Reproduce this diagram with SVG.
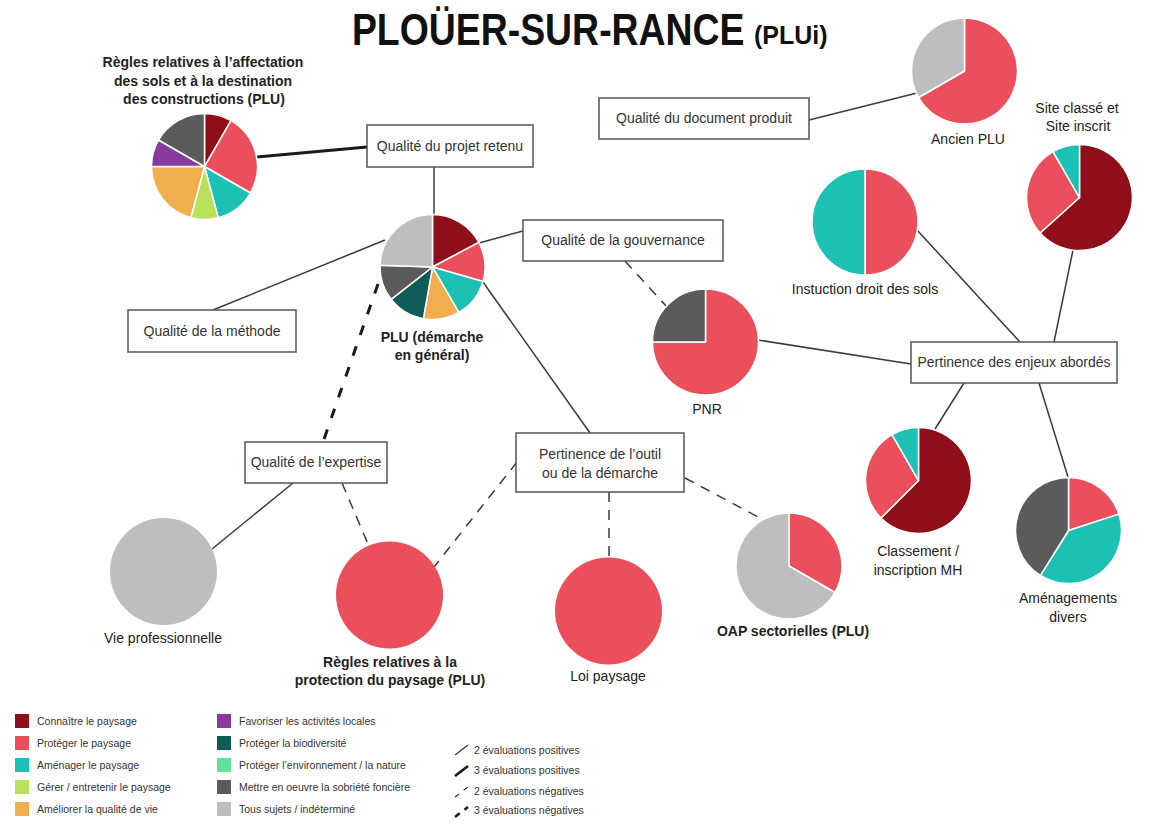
<svg xmlns="http://www.w3.org/2000/svg" width="1171" height="827" viewBox="0 0 1171 827">
<style>
.bg{fill:#ffffff}
.box{fill:#ffffff;stroke:#555555;stroke-width:1.5}
.bt{font-family:"Liberation Sans",Arial,sans-serif;font-size:14px;fill:#333333;text-anchor:middle}
.lb{font-family:"Liberation Sans",Arial,sans-serif;font-size:14px;fill:#222222;text-anchor:middle}
.lbb{font-family:"Liberation Sans",Arial,sans-serif;font-size:14px;font-weight:bold;fill:#222222;text-anchor:middle}
.lg{font-family:"Liberation Sans",Arial,sans-serif;font-size:10.5px;fill:#333333}
.c1{fill:#8E0F1A}.c2{fill:#EA4F5B}.c3{fill:#1DC0B4}.c4{fill:#B8E05A}.c5{fill:#F1AE4E}
.c6{fill:#8A3A9C}.c7{fill:#0E5C57}.c8{fill:#62E09C}.c9{fill:#5B5B5B}.c10{fill:#BEBEBE}
.pie path{stroke:#ffffff;stroke-width:1.5;stroke-linejoin:round}
.ln{fill:none;stroke:#3a3a3a;stroke-width:1.5}
.lnT{fill:none;stroke:#1a1a1a;stroke-width:3}
.dsh{fill:none;stroke:#3a3a3a;stroke-width:1.5;stroke-dasharray:10 8}
.dshT{fill:none;stroke:#1a1a1a;stroke-width:3;stroke-dasharray:10 12}
</style>
<rect class="bg" x="0" y="0" width="1171" height="827"/>

<g id="title">
<text transform="scale(0.85,1)" x="414" y="45" font-family="'Liberation Sans',Arial,sans-serif" font-size="44" font-weight="bold" fill="#111111">PLOÜER-SUR-RANCE</text>
<text x="754" y="44" font-family="'Liberation Sans',Arial,sans-serif" font-size="25" font-weight="bold" fill="#111111">(PLUi)</text>
</g>

<g id="connectors">
<line class="lnT" x1="257" y1="157" x2="367" y2="147"/>
<line class="ln" x1="434" y1="167" x2="434" y2="215"/>
<line class="ln" x1="479" y1="243" x2="523" y2="231"/>
<line class="ln" x1="213" y1="310" x2="385" y2="240"/>
<line class="ln" x1="483" y1="282" x2="590" y2="433"/>
<line class="dshT" x1="378" y1="284" x2="323" y2="442"/>
<line class="dsh" x1="625" y1="261" x2="667" y2="307"/>
<line class="ln" x1="809" y1="120" x2="917" y2="93"/>
<line class="ln" x1="917" y1="230" x2="1020" y2="342"/>
<line class="ln" x1="1073" y1="250" x2="1054" y2="342"/>
<line class="ln" x1="758" y1="340" x2="911" y2="364"/>
<line class="ln" x1="964" y1="383" x2="935" y2="429"/>
<line class="ln" x1="1039" y1="383" x2="1068" y2="477"/>
<line class="ln" x1="293" y1="483" x2="212" y2="549"/>
<line class="dsh" x1="342" y1="483" x2="368" y2="544"/>
<line class="dsh" x1="517" y1="462" x2="434" y2="567"/>
<line class="dsh" x1="609" y1="492" x2="609" y2="557"/>
<line class="dsh" x1="685" y1="478" x2="760" y2="518"/>
</g>

<g id="pie-affectation" class="pie">
<path class="c1" d="M204.5,166.5 L204.5,113.5 A53,53 0 0 1 231,120.6 Z"/>
<path class="c2" d="M204.5,166.5 L231,120.6 A53,53 0 0 1 250.4,193 Z"/>
<path class="c3" d="M204.5,166.5 L250.4,193 A53,53 0 0 1 218.2,217.7 Z"/>
<path class="c4" d="M204.5,166.5 L218.2,217.7 A53,53 0 0 1 190.8,217.7 Z"/>
<path class="c5" d="M204.5,166.5 L190.8,217.7 A53,53 0 0 1 151.5,166.5 Z"/>
<path class="c6" d="M204.5,166.5 L151.5,166.5 A53,53 0 0 1 158.6,140 Z"/>
<path class="c9" d="M204.5,166.5 L158.6,140 A53,53 0 0 1 204.5,113.5 Z"/>
<text class="lbb" x="203" y="67">Règles relatives à l’affectation</text>
<text class="lbb" x="203" y="86">des sols et à la destination</text>
<text class="lbb" x="204" y="104">des constructions (PLU)</text>
</g>

<g id="box-projet">
<rect class="box" x="367" y="125" width="166" height="42"/>
<text class="bt" x="450" y="151">Qualité du projet retenu</text>
</g>

<g id="pie-plu" class="pie">
<path class="c1" d="M432.5,267 L432.5,214.5 A52.5,52.5 0 0 1 478.85,242.35 Z"/>
<path class="c2" d="M432.5,267 L478.85,242.35 A52.5,52.5 0 0 1 482.97,281.47 Z"/>
<path class="c3" d="M432.5,267 L482.97,281.47 A52.5,52.5 0 0 1 458.75,312.47 Z"/>
<path class="c5" d="M432.5,267 L458.75,312.47 A52.5,52.5 0 0 1 423.38,318.7 Z"/>
<path class="c7" d="M432.5,267 L423.38,318.7 A52.5,52.5 0 0 1 391.13,299.32 Z"/>
<path class="c9" d="M432.5,267 L391.13,299.32 A52.5,52.5 0 0 1 380.03,265.17 Z"/>
<path class="c10" d="M432.5,267 L380.03,265.17 A52.5,52.5 0 0 1 432.5,214.5 Z"/>
<text class="lbb" x="432" y="342">PLU (démarche</text>
<text class="lbb" x="432" y="360">en général)</text>
</g>

<g id="box-gouvernance">
<rect class="box" x="523" y="220" width="200" height="41"/>
<text class="bt" x="623" y="245">Qualité de la gouvernance</text>
</g>

<g id="box-methode">
<rect class="box" x="128" y="310" width="168" height="42"/>
<text class="bt" x="212" y="336">Qualité de la méthode</text>
</g>

<g id="box-document">
<rect class="box" x="599" y="98" width="210" height="41"/>
<text class="bt" x="704" y="123">Qualité du document produit</text>
</g>

<g id="pie-ancien-plu" class="pie">
<path class="c2" d="M964.5,71 L964.5,18 A53,53 0 1 1 918.6,97.5 Z"/>
<path class="c10" d="M964.5,71 L918.6,97.5 A53,53 0 0 1 964.5,18 Z"/>
<text class="lb" x="968" y="144">Ancien PLU</text>
</g>

<g id="pie-site-classe" class="pie">
<path class="c1" d="M1079.5,197.5 L1079.5,144.5 A53,53 0 1 1 1040.1,232.96 Z"/>
<path class="c2" d="M1079.5,197.5 L1040.1,232.96 A53,53 0 0 1 1053,151.6 Z"/>
<path class="c3" d="M1079.5,197.5 L1053,151.6 A53,53 0 0 1 1079.5,144.5 Z"/>
<text class="lb" x="1077" y="113">Site classé et</text>
<text class="lb" x="1078" y="131">Site inscrit</text>
</g>

<g id="pie-instruction" class="pie">
<path class="c2" d="M865,222 L865,169 A53,53 0 0 1 865,275 Z"/>
<path class="c3" d="M865,222 L865,275 A53,53 0 0 1 865,169 Z"/>
<text class="lb" x="865" y="294">Instuction droit des sols</text>
</g>

<g id="pie-pnr" class="pie">
<path class="c2" d="M705.5,342 L705.5,289 A53,53 0 1 1 652.5,342 Z"/>
<path class="c9" d="M705.5,342 L652.5,342 A53,53 0 0 1 705.5,289 Z"/>
<text class="lb" x="707" y="414">PNR</text>
</g>

<g id="box-enjeux">
<rect class="box" x="911" y="342" width="206" height="41"/>
<text class="bt" x="1014" y="367">Pertinence des enjeux abordés</text>
</g>

<g id="pie-classement" class="pie">
<path class="c1" d="M918.5,480.5 L918.5,427.5 A53,53 0 1 1 881,518 Z"/>
<path class="c2" d="M918.5,480.5 L881,518 A53,53 0 0 1 892,434.6 Z"/>
<path class="c3" d="M918.5,480.5 L892,434.6 A53,53 0 0 1 918.5,427.5 Z"/>
<text class="lb" x="918" y="556">Classement /</text>
<text class="lb" x="918" y="575">inscription MH</text>
</g>

<g id="pie-amenagements" class="pie">
<path class="c2" d="M1068.5,530.5 L1068.5,477.5 A53,53 0 0 1 1118.9,514.1 Z"/>
<path class="c3" d="M1068.5,530.5 L1118.9,514.1 A53,53 0 0 1 1040.4,575.4 Z"/>
<path class="c9" d="M1068.5,530.5 L1040.4,575.4 A53,53 0 0 1 1068.5,477.5 Z"/>
<text class="lb" x="1068" y="603">Aménagements</text>
<text class="lb" x="1068" y="622">divers</text>
</g>

<g id="box-outil">
<rect class="box" x="516" y="433" width="168" height="59"/>
<text class="bt" x="600" y="459">Pertinence de l’outil</text>
<text class="bt" x="600" y="478">ou de la démarche</text>
</g>

<g id="box-expertise">
<rect class="box" x="245" y="442" width="142" height="41"/>
<text class="bt" x="316" y="467">Qualité de l’expertise</text>
</g>

<g id="pie-vie-pro">
<circle class="c10" cx="163.5" cy="571.5" r="53.5"/>
<text class="lb" x="163" y="643">Vie professionnelle</text>
</g>

<g id="pie-regles-protection">
<circle class="c2" cx="389.5" cy="595" r="53.5"/>
<text class="lbb" x="390" y="667">Règles relatives à la</text>
<text class="lbb" x="390" y="685">protection du paysage (PLU)</text>
</g>

<g id="pie-loi-paysage">
<circle class="c2" cx="608.5" cy="611" r="53.5"/>
<text class="lb" x="608" y="681">Loi paysage</text>
</g>

<g id="pie-oap" class="pie">
<path class="c2" d="M789,566 L789,513 A53,53 0 0 1 834.9,592.5 Z"/>
<path class="c10" d="M789,566 L834.9,592.5 A53,53 0 1 1 789,513 Z"/>
<text class="lbb" x="793" y="636">OAP sectorielles (PLU)</text>
</g>

<g id="legend">
<rect class="c1" x="15" y="714" width="14" height="14"/>
<text class="lg" x="37" y="724.5">Connaître le paysage</text>
<rect class="c2" x="15" y="736" width="14" height="14"/>
<text class="lg" x="37" y="746.5">Protéger le paysage</text>
<rect class="c3" x="15" y="758" width="14" height="14"/>
<text class="lg" x="37" y="768.5">Aménager le paysage</text>
<rect class="c4" x="15" y="780" width="14" height="14"/>
<text class="lg" x="37" y="790.5">Gérer / entretenir le paysage</text>
<rect class="c5" x="15" y="802" width="14" height="14"/>
<text class="lg" x="37" y="812.5">Améliorer la qualité de vie</text>

<rect class="c6" x="217" y="714" width="14" height="14"/>
<text class="lg" x="239" y="724.5">Favoriser les activités locales</text>
<rect class="c7" x="217" y="736" width="14" height="14"/>
<text class="lg" x="239" y="746.5">Protéger la biodiversité</text>
<rect class="c8" x="217" y="758" width="14" height="14"/>
<text class="lg" x="239" y="768.5">Protéger l’environnement / la nature</text>
<rect class="c9" x="217" y="780" width="14" height="14"/>
<text class="lg" x="239" y="790.5">Mettre en oeuvre la sobriété foncière</text>
<rect class="c10" x="217" y="802" width="14" height="14"/>
<text class="lg" x="239" y="812.5">Tous sujets / indéterminé</text>

<line x1="455" y1="755" x2="468" y2="745" stroke="#333333" stroke-width="1.2"/>
<text class="lg" x="474" y="753.5">2 évaluations positives</text>
<line x1="455" y1="776" x2="468" y2="766" stroke="#1a1a1a" stroke-width="2.6"/>
<text class="lg" x="474" y="774">3 évaluations positives</text>
<line x1="455" y1="797" x2="468" y2="787" stroke="#333333" stroke-width="1.2" stroke-dasharray="5 6"/>
<text class="lg" x="474" y="794.5">2 évaluations négatives</text>
<line x1="455" y1="817" x2="468" y2="807" stroke="#1a1a1a" stroke-width="2.6" stroke-dasharray="6 6"/>
<text class="lg" x="474" y="814">3 évaluations négatives</text>
</g>
</svg>
